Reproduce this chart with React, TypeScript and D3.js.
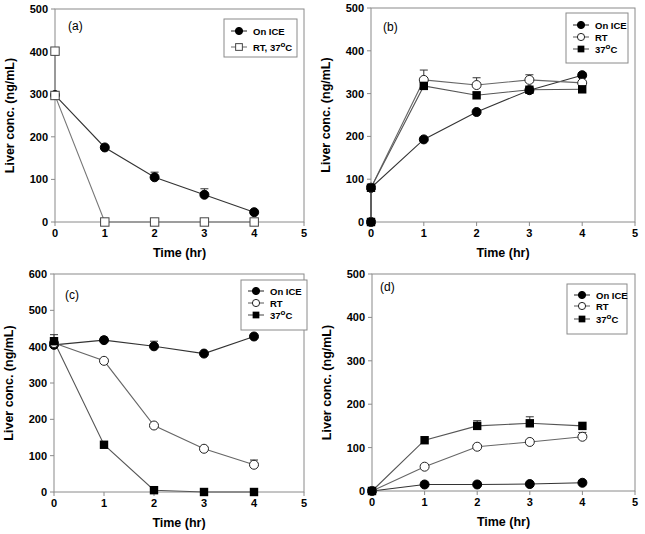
import React from "react";
import * as d3 from "d3";

// time points (hr)
const timesA = [0, 1, 2, 3, 4];
const timesRtA = [0, 0, 1, 2, 3, 4];
const times0 = [0, 0, 1, 2, 3, 4];

// panel (a)
const iceA = [298, 175, 105, 64, 23];
const iceAErr = [0, 4, 12, 14, 0];
const rtA = [401, 297, 0, 0, 0, 0];

// panel (b)
const iceB = [0, 80, 193, 257, 308, 343];
const iceBErr = [0, 0, 0, 0, 0, 6];
const rtB = [0, 80, 332, 320, 332, 325];
const rtBErr = [0, 0, 23, 17, 12, 0];
const hotB = [0, 80, 318, 296, 309, 310];

// panel (c)
const iceC = [405, 418, 401, 381, 428];
const iceCErr = [28, 8, 14, 0, 0];
const rtC = [410, 361, 183, 119, 75];
const rtCErr = [0, 0, 0, 0, 13];
const hotC = [415, 130, 5, 0, 0];

// panel (d)
const iceD = [0, 15, 15, 16, 19];
const rtD = [0, 56, 102, 113, 125];
const rtDErr = [0, 0, 0, 0, 10];
const hotD = [0, 117, 150, 156, 150];
const hotDErr = [0, 0, 12, 15, 0];
const timesD = [0, 1, 2, 3, 4];

const xTicks = [0, 1, 2, 3, 4, 5];
const yTicks500 = [0, 100, 200, 300, 400, 500];
const yTicks600 = [0, 100, 200, 300, 400, 500, 600];

const FONT = "Liberation Sans, Arial, sans-serif";
const AXIS = "#8a8a8a";

type Series = {
  name: string;
  sup?: string;
  tail?: string;
  x: number[];
  y: number[];
  err?: number[];
  marker: "filled" | "open" | "square" | "openSquare";
  stroke: string;
};

type PanelProps = {
  label: string;
  left: number;
  right: number;
  top: number;
  bottom: number;
  yMax: number;
  yTicks: number[];
  series: Series[];
  legend: { x0: number; x1: number; y0: number; rows: number[] };
  labelPos: [number, number];
};

const Marker = ({ kind, x, y, s = 1 }: { kind: Series["marker"]; x: number; y: number; s?: number }) => {
  const r = 4.5 * s;
  const h = 4.2 * s;
  if (kind === "filled") return <circle cx={x} cy={y} r={r} fill="#000" stroke="#000" />;
  if (kind === "open") return <circle cx={x} cy={y} r={r} fill="#fff" stroke="#222" strokeWidth={1} />;
  if (kind === "square") return <rect x={x - h} y={y - h} width={2 * h} height={2 * h} fill="#000" />;
  return <rect x={x - h} y={y - h} width={2 * h} height={2 * h} fill="#fff" stroke="#444" strokeWidth={1} />;
};

const Panel = (p: PanelProps) => {
  const x = d3.scaleLinear().domain([0, 5]).range([p.left, p.right]);
  const y = d3.scaleLinear().domain([0, p.yMax]).range([p.bottom, p.top]);
  const line = d3
    .line<[number, number]>()
    .x((d) => x(d[0]))
    .y((d) => y(d[1]));
  const midX = (p.left + p.right) / 2;
  const midY = (p.top + p.bottom) / 2;
  return (
    <g>
      {/* frame */}
      <rect
        x={p.left}
        y={p.top}
        width={p.right - p.left}
        height={p.bottom - p.top}
        fill="none"
        stroke={AXIS}
        strokeWidth={1}
      />
      {p.yTicks.map((t) => (
        <g key={"y" + t}>
          <line x1={p.left - 4} x2={p.left} y1={y(t)} y2={y(t)} stroke={AXIS} />
          <text
            x={p.left - 7}
            y={y(t) + 4}
            textAnchor="end"
            fontSize={11}
            fontWeight="bold"
            fontFamily={FONT}
          >
            {t}
          </text>
        </g>
      ))}
      {xTicks.map((t) => (
        <g key={"x" + t}>
          <line x1={x(t)} x2={x(t)} y1={p.bottom} y2={p.bottom + 4} stroke={AXIS} />
          <text
            x={x(t)}
            y={p.bottom + 15}
            textAnchor="middle"
            fontSize={11}
            fontWeight="bold"
            fontFamily={FONT}
          >
            {t}
          </text>
        </g>
      ))}
      <text
        x={midX}
        y={p.bottom + 35}
        textAnchor="middle"
        fontSize={12.5}
        fontWeight="bold"
        fontFamily={FONT}
      >
        Time (hr)
      </text>
      <text
        transform={`translate(${p.left - 41},${midY}) rotate(-90)`}
        textAnchor="middle"
        fontSize={12.5}
        fontWeight="bold"
        fontFamily={FONT}
      >
        Liver conc. (ng/mL)
      </text>
      <text x={p.labelPos[0]} y={p.labelPos[1]} fontSize={12} fontFamily={FONT}>
        {p.label}
      </text>
      {/* lines */}
      {p.series.map((s) => (
        <path
          key={"l" + s.name}
          d={line(s.x.map((v, i) => [v, s.y[i]] as [number, number])) || ""}
          fill="none"
          stroke={s.stroke}
          strokeWidth={1.1}
        />
      ))}
      {/* error bars (upper only) */}
      {p.series.map((s) =>
        (s.err || []).map((e, i) =>
          e > 0 ? (
            <g key={"e" + s.name + i} stroke="#333" strokeWidth={1}>
              <line x1={x(s.x[i])} x2={x(s.x[i])} y1={y(s.y[i])} y2={y(s.y[i] + e)} />
              <line x1={x(s.x[i]) - 4} x2={x(s.x[i]) + 4} y1={y(s.y[i] + e)} y2={y(s.y[i] + e)} />
            </g>
          ) : null
        )
      )}
      {/* markers */}
      {p.series.map((s) =>
        s.x.map((v, i) => <Marker key={"m" + s.name + i} kind={s.marker} x={x(v)} y={y(s.y[i])} />)
      )}
      {/* legend */}
      <rect
        x={p.legend.x0}
        y={p.legend.y0}
        width={p.legend.x1 - p.legend.x0}
        height={p.legend.rows.length * 12 + 14}
        fill="#fff"
        stroke={AXIS}
      />
      {p.series.map((s, i) => {
        const ly = p.legend.rows[i];
        const mx = p.legend.x0 + 15;
        return (
          <g key={"lg" + s.name}>
            <line x1={mx - 8} x2={mx + 8} y1={ly} y2={ly} stroke={s.stroke} strokeWidth={1.1} />
            <Marker kind={s.marker} x={mx} y={ly} s={0.8} />
            <text x={mx + 14} y={ly + 3.5} fontSize={9.5} fontWeight="bold" fontFamily={FONT}>
              {s.name}
              {s.sup ? (
                <tspan dy={-4} fontSize={8}>
                  {s.sup}
                </tspan>
              ) : null}
              {s.tail ? <tspan dy={s.sup ? 4 : 0}>{s.tail}</tspan> : null}
            </text>
          </g>
        );
      })}
    </g>
  );
};

export default function App() {
  return (
    <svg width={645} height={534} style={{ display: "block", position: "absolute", left: 0, top: 0 }}>
      <rect width={645} height={534} fill="#fff" />
      <Panel
        label="(a)"
        left={55}
        right={304}
        top={9}
        bottom={222}
        yMax={500}
        yTicks={yTicks500}
        labelPos={[68, 30]}
        legend={{ x0: 224, x1: 297, y0: 19, rows: [31, 47] }}
        series={[
          { name: "On ICE", x: timesA, y: iceA, err: iceAErr, marker: "filled", stroke: "#333" },
          { name: "RT, 37", sup: "o", tail: "C", x: timesRtA, y: rtA, marker: "openSquare", stroke: "#777" },
        ]}
      />
      <Panel
        label="(b)"
        left={371}
        right={635}
        top={8}
        bottom={222}
        yMax={500}
        yTicks={yTicks500}
        labelPos={[383, 31]}
        legend={{ x0: 566, x1: 628, y0: 13, rows: [25, 37, 49] }}
        series={[
          { name: "On ICE", x: times0, y: iceB, err: iceBErr, marker: "filled", stroke: "#333" },
          { name: "RT", x: times0, y: rtB, err: rtBErr, marker: "open", stroke: "#666" },
          { name: "37", sup: "o", tail: "C", x: times0, y: hotB, marker: "square", stroke: "#555" },
        ]}
      />
      <Panel
        label="(c)"
        left={54}
        right={304}
        top={274}
        bottom={492}
        yMax={600}
        yTicks={yTicks600}
        labelPos={[65, 299]}
        legend={{ x0: 241, x1: 307, y0: 280, rows: [291, 303, 315] }}
        series={[
          { name: "On ICE", x: timesD, y: iceC, err: iceCErr, marker: "filled", stroke: "#333" },
          { name: "RT", x: timesD, y: rtC, err: rtCErr, marker: "open", stroke: "#666" },
          { name: "37", sup: "o", tail: "C", x: timesD, y: hotC, marker: "square", stroke: "#555" },
        ]}
      />
      <Panel
        label="(d)"
        left={372}
        right={635}
        top={274}
        bottom={491}
        yMax={500}
        yTicks={yTicks500}
        labelPos={[380, 291]}
        legend={{ x0: 567, x1: 627, y0: 284, rows: [295, 306, 319] }}
        series={[
          { name: "On ICE", x: timesD, y: iceD, marker: "filled", stroke: "#333" },
          { name: "RT", x: timesD, y: rtD, err: rtDErr, marker: "open", stroke: "#666" },
          { name: "37", sup: "o", tail: "C", x: timesD, y: hotD, err: hotDErr, marker: "square", stroke: "#555" },
        ]}
      />
    </svg>
  );
}
